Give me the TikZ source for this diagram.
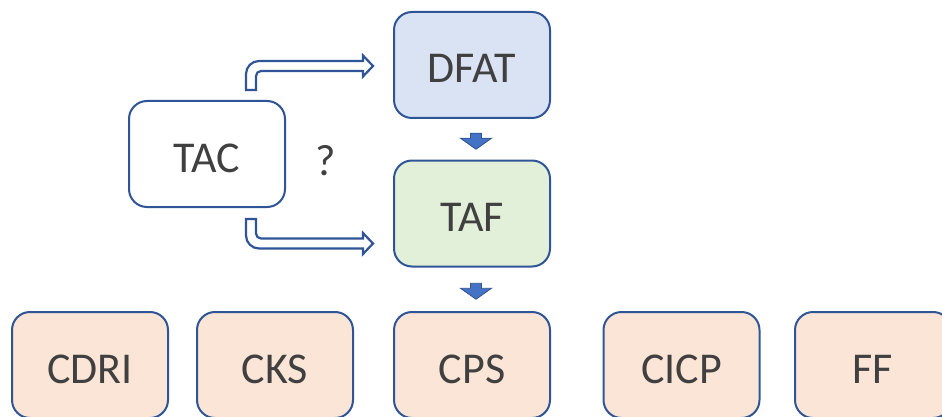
\documentclass[tikz,border=0pt]{standalone}
\usepackage{fontspec}
\setmainfont{Carlito}
\usetikzlibrary{calc}

\definecolor{boxline}{HTML}{2F5597}
\definecolor{boxtext}{HTML}{404040}
\definecolor{dfatfill}{HTML}{DAE3F3}
\definecolor{taffill}{HTML}{E2F0D9}
\definecolor{orgfill}{HTML}{FBE5D6}
\definecolor{arrowfill}{HTML}{4472C4}
\definecolor{arrowline}{HTML}{2F528F}

% hollow bent arrow: #1 foot of the stem, #2 tip, #3 = 1 bends up, -1 bends down
\newcommand\bentarrow[3]{%
  \draw[hollowarrow]
    ($(#1)+(-5,0)$) [rounded corners=13pt]
    -- ($(#1 |- #2)+(-5,{-5*(#3)})$) [sharp corners]
    -- ($(#2)+(-10,{-5*(#3)})$)
    -- ($(#2)+(-10,{-10.5*(#3)})$)
    -- (#2)
    -- ($(#2)+(-10,{10.5*(#3)})$)
    -- ($(#2)+(-10,{5*(#3)})$) [rounded corners=5pt]
    -- ($(#1 |- #2)+(5,{5*(#3)})$) [sharp corners]
    -- ($(#1)+(5,0)$) -- cycle;}

% small filled arrow pointing down, centred on #1
\newcommand\blockdown[1]{%
  \draw[blockarrow]
    ($(#1)+(-5.5,-8)$) -- ($(#1)+(5.5,-8)$) -- ($(#1)+(5.5,-3)$)
    -- ($(#1)+(15.5,-3)$) -- ($(#1)+(0,8)$) -- ($(#1)+(-15.5,-3)$)
    -- ($(#1)+(-5.5,-3)$) -- cycle;}

\begin{document}
\begin{tikzpicture}[x=1pt,y=-1pt,
  box/.style={draw=boxline,line width=2pt,rounded corners=18pt,
    minimum width=156pt,minimum height=106pt,inner sep=0pt,
    text=boxtext,font=\fontsize{44}{50}\selectfont,
    text height=36pt,text depth=0pt},
  hollowarrow/.style={draw=boxline,line width=2.2pt,fill=white,line join=miter},
  blockarrow/.style={draw=arrowline,line width=0.8pt,fill=arrowfill}]
  \useasboundingbox (0,0) rectangle (942,417);
  \clip (0,0) rectangle (942,417);

  \node[box,fill=dfatfill] (dfat) at (472,65) {DFAT};
  \node[box,fill=taffill] (taf) at (472,213.5) {TAF};
  \node[box,fill=white] (tac) at (207,154) {TAC};
  \node[text=boxtext,font=\fontsize{44}{50}\selectfont] (ask) at (326,161) {?};

  \node[box,fill=orgfill] (cdri) at (90,365) {CDRI};
  \node[box,fill=orgfill] (cks) at (275,365) {CKS};
  \node[box,fill=orgfill] (cps) at (472,365) {CPS};
  \node[box,fill=orgfill] (cicp) at (681.5,365) {CICP};
  \node[box,fill=orgfill] (ff) at (873,365) {FF};

  \coordinate (upfoot) at ($(tac.north east)+(-35,-10)$);
  \coordinate (uptip) at ($(dfat.west)+(-20,1)$);
  \coordinate (lowfoot) at ($(tac.south east)+(-35,11)$);
  \coordinate (lowtip) at ($(taf.west)+(-20,30)$);
  \bentarrow{upfoot}{uptip}{1}
  \bentarrow{lowfoot}{lowtip}{-1}

  \blockdown{$(dfat.south)!0.5!(taf.north)+(4,2)$}
  \blockdown{$(taf.south)!0.5!(cps.north)+(4,2)$}
\end{tikzpicture}
\end{document}
